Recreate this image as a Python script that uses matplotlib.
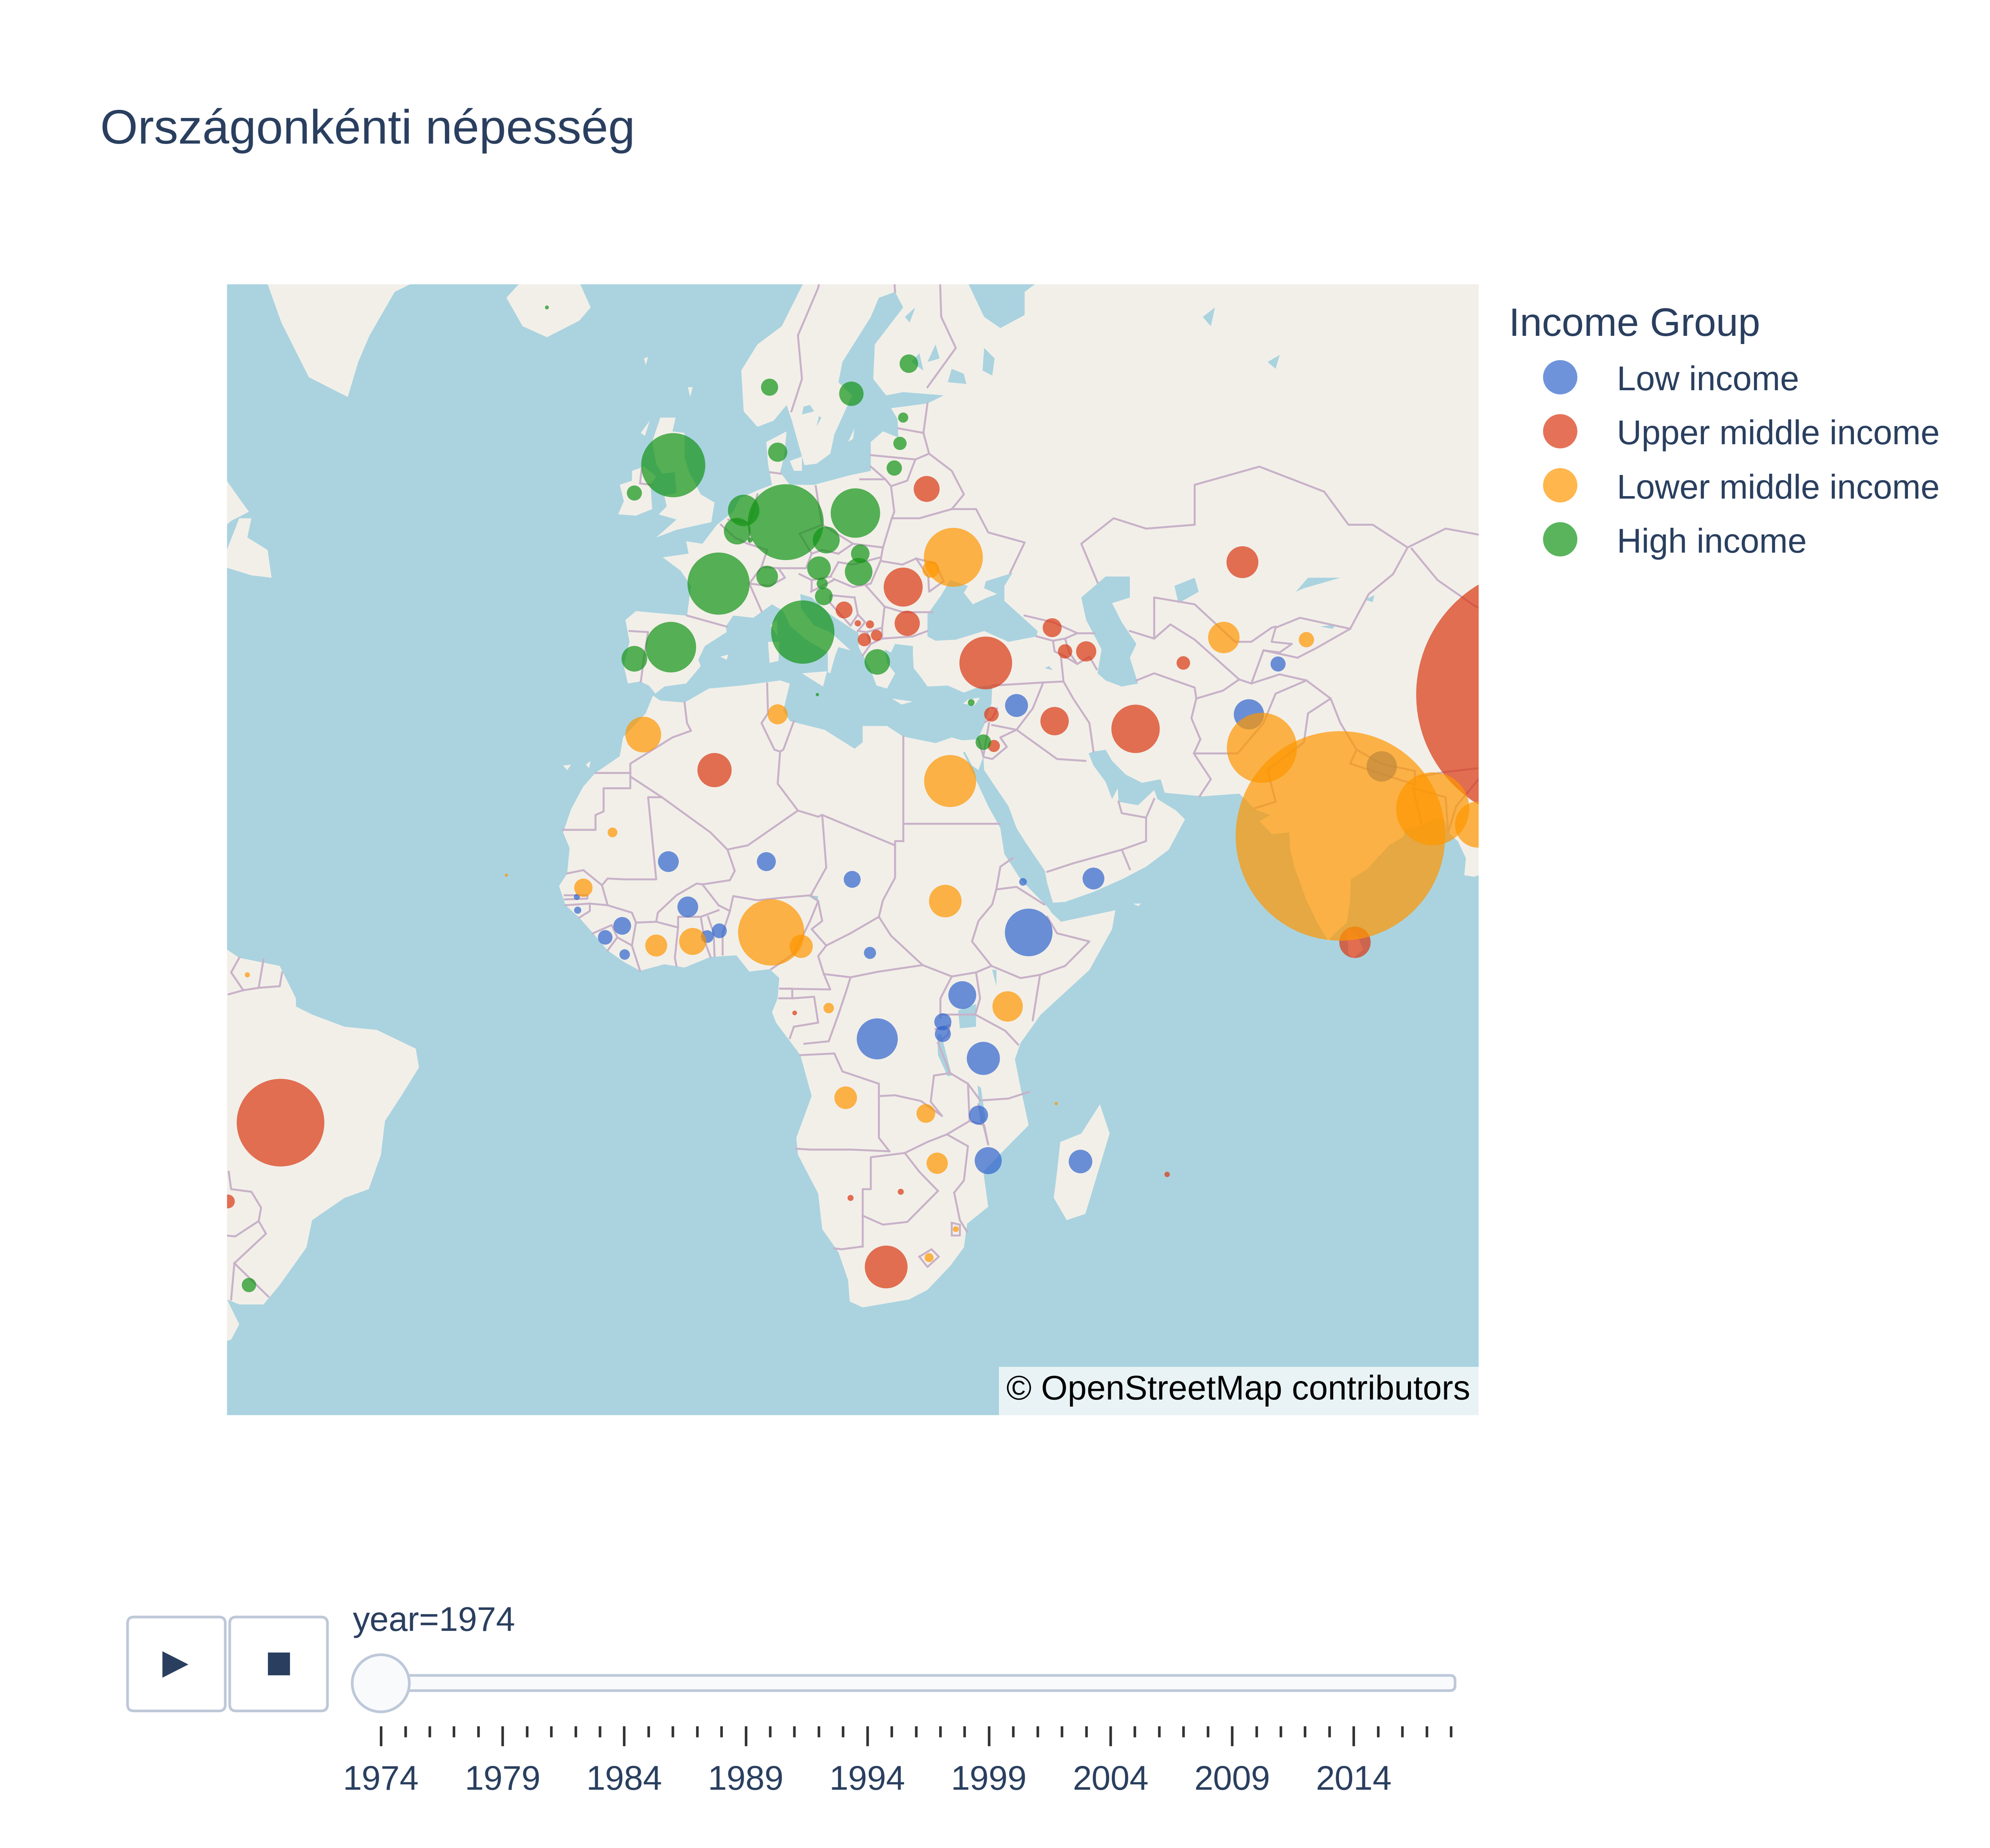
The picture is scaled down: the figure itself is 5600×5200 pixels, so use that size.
import numpy as np
import matplotlib
matplotlib.use('Agg')
import matplotlib.pyplot as plt
from matplotlib.patches import Polygon, FancyBboxPatch, Rectangle

plt.rcParams['font.family'] = ['Liberation Sans', 'DejaVu Sans']

TITLE = 'Országonkénti népesség'
LEGEND_TITLE = 'Income Group'
GROUPS = ['Low income', 'Upper middle income', 'Lower middle income', 'High income']
COLORS = ['#3065cd', '#db3711', '#ff9700', '#139416']
OPACITY = 0.7

# population in millions, lat/lon read from the bubble centres
LOW_LON = [67.7, 84.1, 71.3, 39.0, 48.5, 39.8, 40.5, -4.0, 8.1, 18.7, -1.6, -9.7, -11.8, -9.4, 0.8, 2.3,
           20.9, 21.8, 32.3, 29.9, 29.9, 34.9, 34.3, 35.5, 46.9, -15.3, -15.2]
LOW_LAT = [33.9, 28.4, 38.9, 34.8, 15.6, 15.2, 9.1, 17.6, 17.6, 15.5, 12.2, 9.9, 8.5, 6.4, 8.6, 9.3,
           6.6, -4.0, 1.4, -1.9, -3.4, -6.4, -13.3, -18.7, -18.8, 13.4, 11.8]
LOW_POP = [12.5, 12.6, 3.1, 7.2, 6.5, 0.8, 31.0, 5.9, 4.9, 3.9, 5.9, 4.3, 2.9, 1.5, 2.2, 3.0,
           2.0, 23.0, 10.6, 4.0, 3.5, 15.0, 5.0, 10.0, 7.6, 0.5, 0.7]

UPPER_LON = [104.2, -51.9, 27.9, 25.0, 25.5, 17.7, 19.4, 20.9, 20.2, 21.7, 35.2, 45.0, 47.6, 43.4, 66.9, 59.6,
             53.7, 43.7, 35.9, 36.2, 1.7, 22.9, 11.6, 24.7, 18.5, 57.6, 80.8, -58.4]
UPPER_LAT = [35.9, -14.2, 53.7, 45.9, 42.7, 43.9, 42.7, 42.6, 41.2, 41.6, 39.0, 40.1, 40.1, 42.3, 48.0, 39.0,
             32.4, 33.2, 33.9, 30.6, 28.0, -30.6, -0.8, -22.3, -23.0, -20.3, 7.9, -23.4]
UPPER_POP = [900.0, 105.0, 9.2, 20.8, 8.7, 3.9, 0.55, 0.9, 2.4, 1.7, 38.0, 2.8, 5.6, 4.9, 13.9, 2.5,
             32.0, 11.0, 2.9, 2.0, 16.0, 25.0, 0.3, 0.5, 0.5, 0.4, 13.5, 2.6]

LOWER_LON = [79.0, 69.3, 90.4, 96.0, 31.2, 28.4, 30.8, -7.1, 9.5, -10.9, -14.5, -5.5, -1.0, 8.7, 12.4, 15.8,
             17.9, 27.8, 29.2, 30.2, 37.9, 28.2, 31.5, 64.6, 74.8, -56.0, -24.0, 43.9]
LOWER_LAT = [20.6, 30.4, 23.7, 21.9, 48.4, 47.4, 26.8, 31.8, 33.9, 21.0, 14.5, 7.5, 8.0, 9.1, 7.4, -0.2,
             -11.2, -13.1, -19.0, 12.9, 0.0, -29.6, -26.5, 41.4, 41.2, 3.9, 16.0, -11.9]
LOWER_POP = [600.0, 67.0, 73.0, 29.0, 47.5, 3.8, 37.0, 17.5, 5.5, 1.3, 4.6, 6.6, 10.0, 60.0, 7.4, 1.5,
             7.0, 4.8, 6.2, 14.5, 12.6, 1.1, 0.47, 13.5, 3.2, 0.37, 0.15, 0.15]

HIGH_LON = [-19.0, 8.5, 18.6, 25.7, 25.0, 24.6, 23.9, 9.5, -3.4, -8.2, 5.3, 4.5, 6.1, 10.5, 19.1, 2.2,
            8.2, 14.6, 15.5, 19.7, 19.5, 15.0, 15.2, 12.6, -3.7, -8.2, 21.8, 33.4, 34.9, -55.8, 14.4]
HIGH_LAT = [65.0, 60.5, 60.1, 61.9, 58.6, 56.9, 55.2, 56.3, 55.4, 53.4, 52.1, 50.5, 49.8, 51.2, 51.9, 46.2,
            46.8, 47.5, 49.8, 48.7, 47.2, 46.2, 45.1, 41.9, 40.5, 39.4, 39.1, 35.1, 31.0, -32.5, 35.9]
HIGH_POP = [0.21, 4.0, 8.14, 4.67, 1.4, 2.4, 3.2, 5.05, 56.2, 3.1, 13.5, 9.7, 0.35, 78.7, 33.4, 52.8,
            6.4, 7.6, 9.9, 4.7, 10.4, 1.7, 4.3, 54.8, 35.0, 9.0, 8.9, 0.63, 3.3, 2.8, 0.15]

YEARS = list(range(1974, 2019))
YEAR_LABELS = YEARS[::5]

LAND_COLOR = '#f2efe9'
WATER_COLOR = '#aad3df'
BORDER_COLOR = '#c8b2c8'
TEXT_COLOR = '#2a3f5f'
UI_EDGE = '#bec8d9'
UI_FILL = '#f8fafc'

# rough basemap outlines, lon/lat
EURAFRASIA = [(110, 68), (110, 14), (97.5, 16.5), (95.5, 15.8), (94.3, 16), (94.5, 18), (93.5, 20), (92.3, 21),
    (91.8, 22.5), (90.5, 22.5), (89, 21.8), (87, 21.4), (86.8, 20.5), (85, 19.5), (82.3, 16.7), (80.3, 15.5),
    (80.2, 13), (79.8, 10.3), (78.2, 8.9), (77.5, 8.1), (76.3, 10), (74.8, 13), (73.3, 17), (72.8, 19), (72.7, 21),
    (70.5, 20.8), (69, 22.3), (70.3, 23), (68.5, 23.6), (67.2, 24.8), (66.5, 25.4), (62, 25.1), (57.3, 25.5),
    (56.8, 27), (54.5, 26.6), (52.5, 27.5), (50.8, 29), (50, 30.2), (48.5, 30), (47.9, 29.8), (48.5, 28.5),
    (50, 26.7), (50.8, 24.8), (51.5, 26), (51.6, 24.5), (54, 24.1), (56, 25.8), (56.4, 24.8), (58.7, 23.5),
    (59.8, 22.5), (57.8, 19), (55, 17), (52, 15.5), (48.5, 14), (45, 12.8), (43.5, 12.7), (42.8, 15), (42.5, 16.5),
    (40, 20), (39, 21.5), (38, 24), (36.5, 26), (35, 28), (34.9, 29.5), (34.3, 28), (33.5, 28.5), (32.6, 30),
    (32.4, 29.9), (33.7, 27.5), (35.5, 24), (37, 21.5), (37.5, 18.5), (39.5, 15.5), (43, 12), (43.3, 11.5),
    (44.5, 10.4), (51.2, 11.8), (50.8, 9.5), (48, 4.5), (42, -1), (39.5, -4.5), (38.8, -6.5), (39.5, -10),
    (40.5, -14.5), (36.9, -18), (34.9, -20), (35.5, -24), (32.9, -25.9), (32.5, -28.5), (30.8, -30.5), (28, -33),
    (25.7, -34), (20, -34.8), (18.4, -34.2), (18.2, -32), (17, -29), (15, -26.5), (14.5, -22.5), (12, -18),
    (11.8, -16), (13.7, -11), (12.3, -6), (9.3, -2), (8.8, -0.7), (9.5, 1), (9.7, 3.5), (8.5, 4.6), (6, 4.3),
    (4.4, 6.3), (1.2, 6.1), (-2, 4.8), (-4.5, 5.2), (-7.5, 4.4), (-9.5, 5.5), (-11.5, 6.9), (-13.3, 9), (-15, 10.9),
    (-16.7, 12.4), (-17.5, 14.7), (-16.5, 16.2), (-16.2, 19.2), (-17, 21), (-16, 23.7), (-14.5, 26.2), (-13, 27.7),
    (-10, 29.5), (-9.6, 31.5), (-6.8, 34), (-5.9, 35.8), (-5, 35.3), (-2, 35.1), (1, 36.5), (5, 36.8), (9.8, 37.3),
    (11, 37), (10.2, 34.3), (11, 33.2), (15.3, 32.3), (19, 30.3), (20, 31), (20, 32.7), (23, 32.7), (25, 31.6),
    (29, 30.9), (31, 31.5), (32.3, 31.2), (34.2, 31.3), (35, 32.8), (35.9, 35), (36, 36.8), (34.5, 36.7),
    (32.5, 36.1), (30.5, 36.8), (28, 36.7), (27.3, 37.5), (26.3, 38.5), (26.2, 39.8), (26.2, 40.6), (24, 40.8),
    (23.5, 40), (22.7, 40.3), (23, 39), (24, 38), (23, 36.5), (21.7, 36.8), (21, 38.3), (19.5, 40.5), (19.5, 41.8),
    (16, 43.5), (13.7, 45), (12.3, 45.3), (12.4, 44), (14, 42.5), (16, 41.9), (18.5, 40.2), (17, 40.5), (16.6, 39.7),
    (16, 38), (15.7, 38.1), (15.7, 40), (13, 41.2), (11, 42.5), (10.2, 43.8), (8.8, 44.4), (6.5, 43.2), (4, 43.4),
    (3.1, 42.4), (3.2, 41.9), (0.5, 40.6), (-0.3, 39.3), (0, 38.7), (-1.8, 37), (-4.5, 36.7), (-5.6, 36),
    (-6.4, 36.8), (-7.5, 37.2), (-9, 37), (-9.5, 38.7), (-8.8, 41), (-9.3, 43), (-8, 43.8), (-3.5, 43.5),
    (-1.7, 43.4), (-1.2, 46), (-2.5, 47.3), (-4.7, 48.4), (-1.5, 48.7), (-1.8, 49.7), (0.2, 49.5), (2, 51), (4, 52),
    (4.8, 53), (7, 53.6), (8.8, 54), (8.3, 55.5), (8.1, 57), (10.6, 57.7), (10.3, 56), (9.8, 54.9), (11, 54),
    (14, 54), (18.5, 54.7), (21, 55), (21, 57), (22.5, 57.7), (24.4, 57.3), (24.3, 58.5), (23.5, 59.2), (28, 59.5),
    (30, 60), (25, 60.2), (22.9, 60), (21.3, 61), (21.5, 63), (25, 65), (24, 65.8), (22, 65.5), (21, 64.5),
    (17.5, 62), (17, 60.8), (18.7, 60), (16.5, 57.5), (16, 56.2), (14.3, 55.5), (12.8, 55.4), (11.2, 58.5),
    (10.6, 59.4), (9, 58.4), (7, 58), (5.3, 59), (5, 61.5), (7, 63), (10, 64), (13, 66.5), (13, 68)]
SOUTH_AMERICA = [(-70, 8), (-58.5, 7), (-57, 6), (-52, 5), (-50, 1), (-50, 0), (-48, -1), (-44, -2.5), (-40, -2.9),
    (-35.2, -5.2), (-34.8, -7.5), (-37, -11), (-39, -14), (-39.5, -18), (-41, -22), (-44, -23), (-48, -25.5),
    (-48.7, -28.5), (-52, -32.5), (-54, -34.5), (-57, -34.5), (-58.5, -34), (-57, -36.5), (-58, -38), (-62, -39),
    (-65, -41), (-70, -41)]
GREENLAND = [(-54, 67), (-53.5, 66.2), (-51.8, 64.2), (-48.4, 61.1), (-43.6, 59.9), (-42.3, 62), (-40.9, 63.5),
    (-37.8, 65.8), (-35.3, 66.3), (-30, 68)]
LABRADOR = [(-70, 60), (-64.5, 60), (-62, 57.5), (-60, 55.5), (-57, 53), (-55.8, 52), (-58, 51.3), (-60, 50.2),
    (-66, 50.2), (-70, 48)]
NEWFOUNDLAND = [(-59.3, 47.7), (-57, 51.5), (-55.5, 51.5), (-56, 50), (-53.5, 49), (-53, 46.7), (-55.5, 46.9)]
ICELAND = [(-24, 65.5), (-22, 64), (-19, 63.4), (-15, 64.3), (-13.6, 65), (-15, 66.3), (-18, 66.2), (-22, 66.4)]
BRITAIN = [(-5.5, 50), (-3, 50.6), (1.3, 51.2), (1.7, 52.7), (0, 53.3), (-1.5, 55), (-2, 56), (-2, 57.6), (-3.5, 57.7),
    (-3.1, 58.6), (-5, 58.6), (-6, 57), (-5.5, 55.5), (-4.8, 54.8), (-3.2, 54.9), (-3, 53.4), (-4.5, 53.2),
    (-4.2, 52.4), (-5.2, 51.8), (-3, 51.4)]
IRELAND = [(-6, 52.2), (-6.2, 54), (-5.5, 54.6), (-7, 55.3), (-8.5, 55), (-8.5, 54.3), (-10, 54), (-9.5, 52.8),
    (-10.2, 51.8), (-8, 51.7)]
MADAGASCAR = [(49.3, -12), (50.5, -15.5), (47.5, -24.8), (45.2, -25.5), (43.6, -23), (44, -20), (44.4, -16.5), (47, -15.5)]
SRI_LANKA = [(79.8, 9.6), (81.2, 8.5), (81.8, 7), (80.6, 5.95), (80, 6.5)]
SMALL_ISLANDS = [
    [(12.5, 38), (15.6, 38.2), (15.1, 36.7)],
    [(8.3, 41), (9.7, 41), (9.6, 39.2), (8.5, 39)],
    [(8.6, 42.5), (9.4, 43), (9.5, 41.5)],
    [(23.6, 35.5), (26.2, 35.2), (24.8, 34.9)],
    [(32.4, 35), (33, 35.4), (34.5, 35.6), (33.8, 34.8)],
    [(11, 55.7), (12.5, 56), (12.5, 55), (11.5, 55)],
    [(18.2, 57), (19, 57.9), (18.8, 57.2)],
    [(2.4, 39.6), (3.4, 39.8), (3.2, 39.3)],
    [(53.4, 12.6), (54.4, 12.6), (54, 12.3)],
    [(-17, 28.5), (-16, 28.6), (-16.5, 28)],
    [(-14.2, 28.6), (-13.6, 29), (-13.8, 28.2)],
    [(-7, 62.2), (-6.5, 62.3), (-6.8, 61.8)],
    [(-1.6, 60.5), (-1, 60.5), (-1.3, 59.9)],
    [(-7.4, 57.6), (-6.3, 58.4), (-6.9, 57.4)],
]

WATER = [
    [(28, 41.5), (28, 43.5), (29.7, 45.2), (30.8, 46.5), (33, 46), (32.5, 45.4), (33.6, 44.4), (35.4, 45), (36.6, 45.3),
     (35, 45.8), (35.2, 46.4), (38.5, 47.1), (37.5, 46), (37.5, 44.7), (41.6, 42), (41.5, 41.5), (38, 41), (35, 42),
     (31.5, 41.2), (29, 41.1)],
    [(47, 45), (50, 46.8), (53, 46.8), (53, 45), (50.8, 44.5), (52, 42.8), (53.8, 40.8), (53, 39.5), (54, 37), (52, 36.7),
     (50, 37.3), (49, 38), (49.5, 40.3), (47.6, 43)],
    [(32.7, 66.5), (35, 64.5), (37, 63.9), (40, 64.6), (40, 65.8), (42, 66.4), (44, 67), (40, 68), (32, 68)],
    [(30.5, 60.8), (32.8, 60.7), (32.5, 61.3), (31, 61.6)],
    [(34.8, 61.5), (36, 61.2), (36.3, 62.2), (35, 62.8)],
    [(12.5, 58.8), (14, 59), (13.5, 59.4), (12.7, 59.3)],
    [(14.3, 58), (14.9, 58.6), (14.6, 58.7)],
    [(13.2, 13.5), (14.5, 13.5), (14.5, 12.8)],
    [(58.5, 46), (61, 46.7), (61.5, 45.5), (59, 44.5)],
    [(73.5, 45.5), (75, 46.7), (79, 46.7), (74.5, 45.8)],
    [(76.5, 42.4), (78.5, 42.6), (78, 42.2)],
    [(31.8, -0.5), (34, 0.3), (34, -2.5), (32, -2.7)],
    [(29.2, -3.5), (29.7, -3.4), (31, -8.5), (30.5, -8.6), (29.3, -6)],
    [(34.2, -9.7), (34.6, -10), (35.2, -14), (34.5, -14.2)],
    [(36, 4.5), (36.5, 4.5), (36.5, 2.5)],
    [(43, 38.7), (43.5, 38.3), (42.5, 38.5)],
    [(26, 62), (27.5, 61.5), (27, 62.5)],
    [(28, 62), (29.5, 62.2), (29, 63)],
    [(25.2, 64.5), (26.5, 65), (25.8, 64.2)],
    [(82, 44.8), (83.2, 45.2), (83, 44.6)],
    [(62, 64.5), (63.5, 65), (63, 64)],
    [(70, 62), (71.5, 62.4), (71, 61.6)],
]

BORDERS = [
    [(-2, 35.1), (-1.7, 33), (-1.2, 32.2), (-3.5, 31.5), (-5, 30.7), (-8.7, 28.7), (-8.7, 27.7)], [(-13, 27.7), (-8.7, 27.7)],
    [(-8.7, 27.7), (-8.7, 26), (-12, 26), (-12, 23.4), (-13, 23), (-13, 21.3), (-17, 21.3)],
    [(-8.7, 27.3), (-4.8, 25), (1.2, 21), (3.3, 19), (4.2, 19.2), (5.8, 19.5), (12, 23.5)],
    [(-4.8, 25), (-6.5, 25), (-5.5, 15.5), (-9.4, 15.5), (-11.5, 15.6), (-12.2, 14.8)],
    [(-16.5, 16.2), (-14.5, 16.6), (-12.2, 14.8)], [(-12.2, 14.8), (-11.5, 12.4), (-13.7, 12.6), (-16.7, 12.4)],
    [(-16.8, 13.6), (-14, 13.6), (-14, 13.2), (-16.8, 13.1)], [(-13.7, 12.6), (-13.7, 11.7), (-15, 10.9)],
    [(-13.3, 9), (-11, 10), (-10.3, 8.5), (-11.5, 6.9)], [(-8.5, 7.5), (-7.5, 4.4)], [(-10.3, 8.5), (-8.5, 7.5), (-8, 10.3)],
    [(-11.5, 12.4), (-8.5, 11.5), (-8, 10.3)], [(-8, 10.3), (-5.5, 10.4), (-2.8, 9.7)],
    [(-5.5, 10.4), (-5.3, 11.5), (-3, 13.6), (-0.5, 15), (0.2, 14.9), (3.6, 15.4), (4.2, 16.5), (3.3, 19)],
    [(0.2, 14.9), (2.2, 12.4)], [(-2.8, 9.7), (-2.8, 11), (0, 11), (2.2, 11.8)], [(-2.8, 9.7), (-3.2, 6), (-3, 5)],
    [(0, 11), (0.5, 8), (1.2, 6.1)], [(0.9, 11), (1.6, 9), (1.7, 6.2)], [(2.7, 6.4), (2.7, 9), (3.6, 11.7), (2.2, 12.4)],
    [(3.6, 11.7), (4, 13.5), (7, 13), (10, 13.3), (13.6, 13.6)], [(13.6, 13.6), (15.5, 16.9), (15, 23)],
    [(9.8, 30), (9.5, 26.5), (12, 23.5)], [(8.2, 37), (8.3, 34), (7.5, 33), (9.1, 30.2), (9.8, 30)], [(11.5, 33.2), (10.2, 30.2), (9.8, 30)],
    [(25, 31.6), (25, 20)], [(12, 23.5), (14.5, 22.8), (15, 23), (24, 19.5), (24, 20), (25, 20)], [(25, 22), (36.9, 22)],
    [(24, 19.5), (24, 15.7), (22.5, 13), (22, 11)], [(22, 11), (18.5, 9), (15.5, 7.5)],
    [(15.5, 7.5), (13.7, 9.5), (15, 10.5), (14.5, 12.9), (13.6, 13.6)], [(14.5, 12.9), (13.5, 10.5), (11.5, 6.5), (8.7, 4.6)],
    [(9.8, 2.2), (16, 2.1), (15.2, 4), (14.5, 6.2), (15.5, 7.5)], [(15.2, 4), (18.5, 3.6), (22, 4.3), (27.4, 5.1)],
    [(22, 11), (23.5, 8.7), (27.4, 5.1), (31, 3.7), (34, 4.2), (35.9, 5), (33.5, 8), (34.3, 10.5), (36, 12.5), (36.5, 14.3), (37, 17), (38.5, 18)],
    [(36.5, 14.3), (39, 14.6), (42.4, 12.5)], [(35.9, 5), (39.5, 3.5), (41.9, 3.9)], [(41.9, 3.9), (45, 5), (48, 8), (44, 9), (42.8, 11)],
    [(41.9, 3.9), (41, -1.7)], [(31, 3.7), (29.6, 1), (29.6, -1.4)], [(34, 4.2), (34.5, 1), (33.9, -1), (29.6, -1)],
    [(33.9, -1), (37.6, -3), (39.2, -4.7)], [(29, -2.8), (30.8, -2.3), (30.5, -3.5), (29.3, -4.5)], [(29.3, -4.5), (30.8, -8.2)],
    [(30.8, -8.2), (28.8, -8.5), (28.4, -11.7), (29.8, -13.4), (27.2, -11.6), (24, -10.9), (22, -11), (22, -9.5), (17.5, -8), (16.5, -5.8), (12.3, -6)],
    [(12.8, -4.6), (15.8, -4.3), (17, -1), (18, 2), (18.5, 3.6)], [(9.8, 2.2), (11.3, 2.2), (11.3, 1), (14, 1.2), (14.5, -2), (11.5, -2.5), (11, -3.9)],
    [(9.7, 1), (11.3, 1)], [(11.8, -17.3), (13.5, -17.4), (18.5, -17.4), (23.3, -17.6)], [(22, -11), (22, -16), (23.3, -17.6)],
    [(25.2, -17.8), (21, -18.3), (21, -22), (20, -22), (20, -28.4)], [(20, -28.4), (17.4, -28.7), (16.5, -28.6)],
    [(20, -25), (22.5, -26), (25.5, -25.7), (29.3, -22.2)], [(25.2, -17.8), (28, -16.5), (30.4, -15.6)], [(25.2, -17.8), (27, -20), (29.3, -22.2)],
    [(30.4, -15.6), (33, -17), (32.5, -21), (31.3, -22.4)], [(31.3, -22.4), (32, -25.5), (32.9, -26.8)],
    [(33, -9.5), (33.2, -14), (35, -14.5), (35.5, -16.8), (34.3, -12)], [(34.9, -11.5), (38, -11.3), (40.5, -10.5)], [(30.8, -8.2), (33, -9.5), (34.5, -11.5)],
    [(30.4, -15.6), (33.2, -14)], [(27, -29.5), (28.5, -28.7), (29.4, -29.5), (28, -30.6), (27, -29.5)], [(31, -25.8), (32, -26), (32, -27.2), (31, -27.2), (31, -25.8)],
    # europe
    [(11.2, 59), (12.5, 61), (12, 63.5), (14.5, 66), (15, 67)], [(24, 65.8), (23.7, 67.5)], [(28, 60.5), (31.5, 62.8), (29.7, 64.5), (29.5, 67)],
    [(28, 59.5), (27.5, 57.6)], [(24.4, 57.9), (27.5, 57.6)], [(27.5, 57.6), (28.2, 56.2)], [(21, 56.1), (26.5, 55.8)],
    [(28.2, 56.2), (26.5, 55.8), (25.5, 54.3), (23.5, 53.9)], [(21, 55.3), (22.8, 54.4), (19.7, 54.4)], [(22.8, 54.4), (23.5, 53.9)],
    [(23.5, 53.9), (23.9, 52), (23.6, 51.5)], [(23.6, 51.5), (22.5, 49.2)], [(23.6, 51.5), (27, 51.5), (31, 52.2)],
    [(28.2, 56.2), (31, 55), (32.5, 53.3), (31, 52.2)], [(31, 52.2), (34, 52.2), (35.5, 50.4), (40, 49.6), (38.2, 47.1)],
    [(14.2, 53.9), (14.7, 52), (15, 51)], [(15, 51), (18.8, 49.5), (22.5, 49.2)], [(15, 51), (12.2, 50.3), (13.7, 48.7)],
    [(13.7, 48.7), (15, 49), (17, 48.7)], [(17, 48.7), (18.8, 49.5)], [(17, 48), (18.8, 47.8), (22.2, 48.4)], [(22.5, 49.2), (22.2, 48.1)],
    [(22.2, 48.1), (21, 46.2), (20.3, 46.1)], [(22.2, 48.1), (24.9, 47.8), (26.6, 48.3)], [(26.6, 48.3), (29, 47.9), (30, 46.4), (28.2, 45.5), (28.1, 46.8), (26.6, 48.3)],
    [(22.7, 44.2), (25, 43.7), (28.6, 43.7)], [(20.3, 46.1), (22.7, 44.2)], [(22.7, 44.2), (22.4, 42.3)], [(22.4, 41.3), (26.2, 41.5), (28, 42)],
    [(20, 39.7), (21, 40.8), (22.4, 41.3)], [(20.5, 41.9), (22.4, 42.3), (22.4, 41.3)], [(19.4, 42), (20.5, 41.9), (21, 40.8)],
    [(20.3, 46.1), (18.8, 45.9), (16.4, 46.6)], [(17, 48), (16.1, 46.9)], [(16.1, 46.8), (13.7, 46.5)], [(12.2, 47), (13.7, 46.5)], [(13.7, 46.5), (13.7, 45.6)],
    [(13.6, 45.5), (16.4, 46.5)], [(19, 45), (16, 45.2), (16, 44.5), (18.5, 42.5)], [(19, 45), (19.4, 43.5), (18.5, 42.5)], [(19.4, 43.5), (20.3, 42.8), (19.4, 42)],
    [(9.6, 47.5), (13, 47.5), (13.7, 48.7)], [(8.2, 49), (7.5, 47.6), (9.6, 47.5)], [(6, 46.2), (8.5, 46), (10.4, 46.7), (9.6, 47.5)], [(7.5, 47.6), (6, 46.2)],
    [(6, 46.2), (7.5, 43.8)], [(2.5, 51), (4.2, 50), (5.8, 49.5), (8.2, 49)], [(3.4, 51.4), (5.8, 51.2)], [(7, 53.3), (6, 51), (5.8, 51.2)], [(6, 50.8), (6, 49.6)],
    [(8.6, 54.9), (9.9, 54.8)], [(-1.7, 43.4), (3.2, 42.4)], [(-8.8, 42), (-6.5, 41.9), (-7, 39.6), (-7.4, 37.2)], [(-7.3, 55.1), (-7.5, 54.1), (-6, 54)],
    # asia
    [(36, 36.8), (42.3, 37.1)], [(42.3, 37.1), (44.8, 37.2), (44.5, 39.5)], [(41.5, 41.5), (43.5, 41.1), (43.7, 40.1), (44.8, 39.7)],
    [(40, 43.4), (43.5, 42.8), (46.5, 41.8)], [(43.5, 41.1), (45, 41.3), (46.5, 41.8)], [(46.5, 41.8), (48.6, 41.8)],
    [(44.8, 39.7), (46.5, 38.9), (48, 39.6), (48.9, 38.4)], [(45, 41.3), (45.5, 40), (46.5, 38.9)],
    [(49, 46.3), (47, 49.5), (51, 51.5), (55, 50.7), (61, 51), (61, 54), (69, 55.3), (77, 53.5), (80, 51), (83, 51), (87.3, 49.2)],
    [(87.3, 49.2), (85.5, 47), (82.5, 45.3), (80.2, 42.2)], [(87.3, 49.2), (92, 50.7), (98, 50)], [(87.8, 49.1), (91, 46.5), (95.5, 44.3), (100, 42.6)],
    [(53, 42), (56, 41.3), (56, 45), (61, 44.4), (66, 41), (68, 41), (70.5, 42.3), (71, 42.4)], [(71, 42.3), (74, 43.2), (80.2, 42.2)],
    [(80.2, 42.2), (76, 40.4), (73.7, 39.5)], [(71, 42.3), (70.5, 41), (73, 40.8), (71.5, 40), (69.5, 40.2), (73.7, 39.5)], [(69.5, 40.2), (68, 37)],
    [(56, 41.3), (58, 42.6), (61, 41.2), (66.5, 37.4)], [(53.8, 37.3), (56, 38), (61, 36.6), (61.2, 35.5), (64.5, 36.3), (66.5, 37.4)],
    [(66.5, 37.4), (68, 37), (71.5, 37.9), (74.8, 37.3)], [(74.8, 37.3), (71, 36), (69.5, 33), (66.3, 29.8), (60.9, 29.8), (61.7, 31.3)],
    [(61.2, 35.5), (60.6, 33.5), (61.7, 31.3)], [(60.9, 29.8), (63, 27), (61.6, 25.1)], [(68.2, 23.7), (71, 24.5), (70, 28), (74.5, 31), (75, 34), (77.8, 35.5)],
    [(74.8, 37.3), (77.8, 35.5), (79, 33), (81, 30.2)], [(81, 30.2), (80.2, 28.7), (88.2, 26.4), (88.2, 27.9), (84, 28.7), (81, 30.2)], [(88.8, 27.3), (92, 27.8), (97, 28.3)],
    [(88, 26), (89, 22)], [(88, 26), (92, 25), (92.3, 21)], [(92.3, 21), (93.3, 24), (97, 28)], [(44.8, 37.2), (46, 35.5), (48, 33), (48.5, 30)],
    [(42.3, 37.1), (41, 34.5), (39, 32.3)], [(36, 32.8), (39, 32.3)], [(39, 32.3), (37, 31.5), (37.8, 30.5), (36, 29.2), (35, 29.4)], [(39, 32.3), (44, 29.2), (47.5, 29)],
    [(42.8, 16.4), (46, 17.4), (52, 19), (55, 20), (55, 22.7), (52, 23.2), (51.6, 24.5)], [(52, 19), (53, 16.7)], [(55, 22.7), (56, 24.8)],
    [(34.3, 31.3), (34.9, 29.5)], [(34.9, 29.5), (35.6, 33)], [(35.1, 33.1), (36, 33.5), (36.6, 34.5), (35.9, 34.6)],
    # south america
    [(-58.3, -20), (-58, -22), (-55.5, -22.3), (-54.3, -24.1), (-54.6, -25.6), (-57.5, -27.3), (-58.6, -27.2)], [(-54.6, -25.6), (-53.7, -27), (-57.6, -30.2)],
    [(-57.6, -30.2), (-53.4, -33.7)], [(-58, -34), (-57.6, -30.2)], [(-57, 6), (-58, 4.2), (-56.5, 2), (-54.6, 2.3), (-54, 5.8)], [(-54.6, 2.3), (-52, 2.5), (-51.7, 4.2)], [(-58.3, 1.5), (-56.5, 2)],
]


def merc(lat):
    return np.arcsinh(np.tan(np.radians(np.clip(lat, -85, 85))))


def merc_inv(y):
    return np.degrees(np.arctan(np.sinh(y)))


def bubble_area(pop):
    # area proportional to population, india is 165 units across
    return (0.643 * 165 * np.sqrt(np.array(pop) / 600.0)) ** 2


fig = plt.figure(figsize=(14, 13), dpi=400, facecolor='white')

# page axes in screen units for everything that is not the map
ui = fig.add_axes([0, 0, 1, 1])
ui.set_xlim(0, 1568)
ui.set_ylim(1456, 0)
ui.axis('off')

ui.text(79, 113, TITLE, fontsize=24.5, color=TEXT_COLOR, ha='left', va='baseline')

ui.text(1189, 264.5, LEGEND_TITLE, fontsize=20.1, color=TEXT_COLOR, ha='left', va='baseline')
for i, (name, color) in enumerate(zip(GROUPS, COLORS)):
    y = 297 + i * 42.6
    ui.scatter([1229.3], [y], s=(0.643 * 27) ** 2, color=color, alpha=OPACITY, linewidths=0)
    ui.text(1274, y + 10.5, name, fontsize=17.3, color=TEXT_COLOR, ha='left', va='baseline')

# play / stop buttons
for x0 in [100.5, 181]:
    ui.add_patch(FancyBboxPatch((x0 + 3, 1277), 71, 68, boxstyle='round,pad=3,rounding_size=5',
                                fc='white', ec=UI_EDGE, lw=1.35))
ui.add_patch(Polygon([(128, 1301), (148.4, 1311.4), (128, 1321.8)], closed=True, fc=TEXT_COLOR, ec='none'))
ui.add_patch(Rectangle((211, 1302), 17.5, 18, fc=TEXT_COLOR, ec='none'))

# slider
ui.text(278, 1285, 'year=%d' % YEARS[0], fontsize=17.3, color=TEXT_COLOR, ha='left', va='baseline')
ui.add_patch(FancyBboxPatch((281, 1322.5), 863, 7, boxstyle='round,pad=2.5,rounding_size=4',
                            fc=UI_FILL, ec=UI_EDGE, lw=1.35))
ui.scatter([300], [1326], s=(0.643 * 45) ** 2, fc=UI_FILL, ec=UI_EDGE, lw=1.35, zorder=5)
tick_x = 300.2 + np.arange(len(YEARS)) * 19.16
for year, x in zip(YEARS, tick_x):
    major = year in YEAR_LABELS
    ui.plot([x, x], [1360, 1375.5 if major else 1368.5], color='#333333', lw=1.3, solid_capstyle='butt')
    if major:
        ui.text(x, 1410, str(year), fontsize=17.3, color=TEXT_COLOR, ha='center', va='baseline')

# map
ax = fig.add_axes([179 / 1568, (1456 - 1115) / 1456, 986 / 1568, 891 / 1456], facecolor=WATER_COLOR)
ax.set_xlim(-58.49, 96.06)
ax.set_yscale('function', functions=(merc, merc_inv))
ax.set_ylim(-44.98, 66.18)
ax.set_xticks([])
ax.set_yticks([])
ax.minorticks_off()
for side in ax.spines.values():
    side.set_visible(False)

land = [EURAFRASIA, SOUTH_AMERICA, GREENLAND, LABRADOR, NEWFOUNDLAND, ICELAND, BRITAIN, IRELAND, MADAGASCAR, SRI_LANKA] + SMALL_ISLANDS
for outline in land:
    ax.add_patch(Polygon(outline, closed=True, fc=LAND_COLOR, ec='none', zorder=1))
for outline in WATER:
    ax.add_patch(Polygon(outline, closed=True, fc=WATER_COLOR, ec='none', zorder=2))
for line in BORDERS:
    xs, ys = zip(*line)
    ax.plot(xs, ys, color=BORDER_COLOR, lw=1.0, zorder=3, solid_joinstyle='round')

traces = [(LOW_LON, LOW_LAT, LOW_POP), (UPPER_LON, UPPER_LAT, UPPER_POP),
          (LOWER_LON, LOWER_LAT, LOWER_POP), (HIGH_LON, HIGH_LAT, HIGH_POP)]
for (lon, lat, pop), color in zip(traces, COLORS):
    ax.scatter(lon, lat, s=bubble_area(pop), color=color, alpha=OPACITY, linewidths=0, zorder=4)

ax.add_patch(Rectangle((787 - 179) / 986 * np.array([1, 0]) + np.array([0, 0]), 1, 38 / 891, transform=ax.transAxes,
                       fc='white', alpha=0.75, ec='none', zorder=6))
ax.text((793 - 179) / 986, (1115 - 1102.5) / 891, '© OpenStreetMap contributors', transform=ax.transAxes,
        fontsize=17.3, color='black', ha='left', va='baseline', zorder=7)

fig.savefig('out.png', dpi=400)
